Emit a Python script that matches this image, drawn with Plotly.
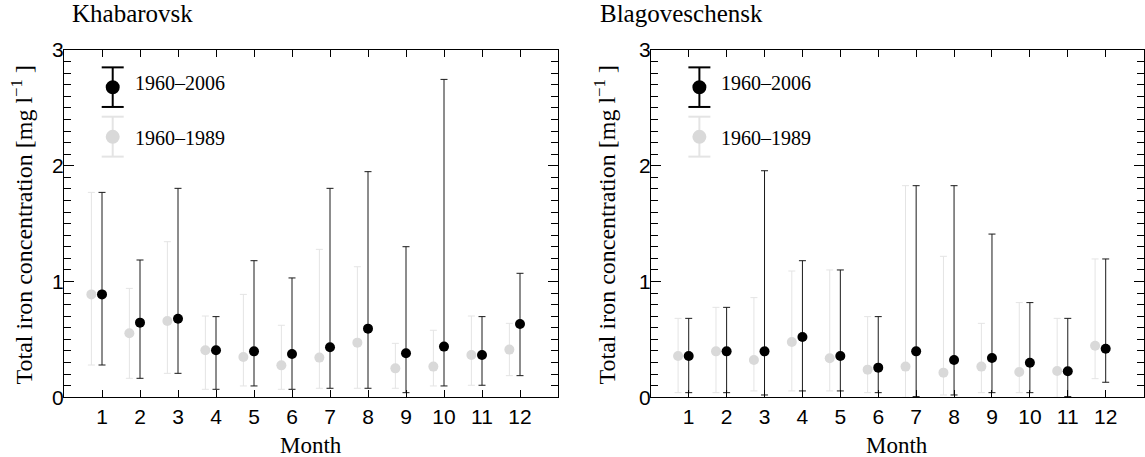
import plotly.graph_objects as go

months = list(range(1, 13))
tick_labels = [str(m) for m in months]

# Khabarovsk
kh_all_mean = [0.889, 0.645, 0.679, 0.406, 0.397, 0.374, 0.432, 0.593, 0.380, 0.438, 0.366, 0.633]
kh_all_max = [1.770, 1.186, 1.805, 0.697, 1.180, 1.031, 1.805, 1.949, 1.301, 2.746, 0.697, 1.071]
kh_all_min = [0.279, 0.164, 0.207, 0.069, 0.098, 0.069, 0.078, 0.078, 0.040, 0.098, 0.104, 0.187]
kh_old_mean = [0.889, 0.553, 0.659, 0.406, 0.348, 0.276, 0.343, 0.472, 0.250, 0.265, 0.366, 0.412]
kh_old_max = [1.770, 0.941, 1.344, 0.702, 0.889, 0.622, 1.278, 1.128, 0.466, 0.579, 0.702, 0.639]
kh_old_min = [0.279, 0.164, 0.207, 0.069, 0.098, 0.069, 0.078, 0.078, 0.078, 0.098, 0.104, 0.187]

# Blagoveschensk
bl_all_mean = [0.357, 0.397, 0.397, 0.521, 0.357, 0.256, 0.397, 0.322, 0.340, 0.299, 0.225, 0.420]
bl_all_max = [0.682, 0.777, 1.957, 1.180, 1.100, 0.697, 1.828, 1.828, 1.410, 0.818, 0.682, 1.195]
bl_all_min = [0.040, 0.040, 0.020, 0.055, 0.055, 0.040, 0.006, 0.020, 0.040, 0.040, 0.006, 0.130]
bl_old_mean = [0.357, 0.397, 0.322, 0.478, 0.337, 0.239, 0.265, 0.213, 0.265, 0.219, 0.227, 0.446]
bl_old_max = [0.682, 0.777, 0.861, 1.091, 1.100, 0.697, 1.828, 1.218, 0.639, 0.818, 0.682, 1.195]
bl_old_min = [0.040, 0.040, 0.055, 0.055, 0.055, 0.040, 0.000, 0.020, 0.040, 0.040, 0.000, 0.161]

titles = ["Khabarovsk", "Blagoveschensk"]
series_names = ["1960–2006", "1960–1989"]

SERIF = "Liberation Serif"
SANS = "Liberation Sans"
GRAY_PT = "#d9d9d9"
GRAY_BAR = "#e4e4e4"
BLACK_BAR = "#1a1a1a"
OFFSET = 0.28

fig = go.Figure()

panels = [
    (kh_all_mean, kh_all_max, kh_all_min, kh_old_mean, kh_old_max, kh_old_min),
    (bl_all_mean, bl_all_max, bl_all_min, bl_old_mean, bl_old_max, bl_old_min),
]

for i, (am, amax, amin, om, omax, omin) in enumerate(panels):
    xa = "x" if i == 0 else "x2"
    ya = "y" if i == 0 else "y2"
    fig.add_trace(go.Scatter(
        x=[m - OFFSET for m in months], y=om, mode="markers", xaxis=xa, yaxis=ya,
        marker=dict(color=GRAY_PT, size=10),
        error_y=dict(type="data", symmetric=False,
                     array=[a - b for a, b in zip(omax, om)],
                     arrayminus=[b - a for a, b in zip(omin, om)],
                     color=GRAY_BAR, thickness=1, width=3.5),
        showlegend=False, name=series_names[1]))
    fig.add_trace(go.Scatter(
        x=months, y=am, mode="markers", xaxis=xa, yaxis=ya,
        marker=dict(color="black", size=10),
        error_y=dict(type="data", symmetric=False,
                     array=[a - b for a, b in zip(amax, am)],
                     arrayminus=[b - a for a, b in zip(amin, am)],
                     color=BLACK_BAR, thickness=1, width=3.5),
        showlegend=False, name=series_names[0]))

xdoms = [[64 / 1145, 558 / 1145], [650.8 / 1145, 1143.6 / 1145]]
ydom = [(457 - 397.3) / 457, (457 - 50) / 457]

def xaxis_cfg(dom, anchor):
    return dict(domain=dom, anchor=anchor, range=[0, 13], tickvals=months, ticktext=tick_labels,
                ticks="inside", ticklen=7, tickcolor="black", tickwidth=1,
                showline=True, linecolor="black", linewidth=1, mirror="allticks",
                showgrid=False, zeroline=False,
                tickfont=dict(family=SANS, size=21, color="black"), automargin=False)

def yaxis_cfg(anchor):
    return dict(domain=ydom, anchor=anchor, range=[0, 3], tickvals=[0, 1, 2, 3],
                ticks="inside", ticklen=10, tickcolor="black", tickwidth=1,
                minor=dict(dtick=0.1, tick0=0, ticks="inside", ticklen=7, tickcolor="black", tickwidth=1, showgrid=False),
                showline=True, linecolor="black", linewidth=1, mirror="allticks",
                showgrid=False, zeroline=False, ticklabelstandoff=-5,
                tickfont=dict(family=SANS, size=21, color="black"), automargin=False)

shapes = []
annotations = []
for i in range(2):
    xr = "x domain" if i == 0 else "x2 domain"
    yr = "y domain" if i == 0 else "y2 domain"
    lx = 0.0986
    for (yc, yt, yb, col, fill, lab, ty) in [
        (0.8926, 0.950, 0.836, "black", "black", series_names[0], 0.906),
        (0.750, 0.808, 0.693, GRAY_BAR, GRAY_PT, series_names[1], 0.746),
    ]:
        shapes.append(dict(type="line", xref=xr, yref=yr, x0=lx, x1=lx, y0=yb, y1=yt,
                           line=dict(color=col, width=2)))
        for yy in (yt, yb):
            shapes.append(dict(type="line", xref=xr, yref=yr, xsizemode="pixel", xanchor=lx,
                               x0=-11, x1=11, y0=yy, y1=yy, line=dict(color=col, width=2)))
        shapes.append(dict(type="circle", xref=xr, yref=yr, xsizemode="pixel", ysizemode="pixel",
                           xanchor=lx, yanchor=yc, x0=-7, x1=7, y0=-7, y1=7,
                           fillcolor=fill, line=dict(width=0)))
        annotations.append(dict(text=lab, xref=xr, yref=yr, x=0.139, y=ty, xanchor="left",
                                yanchor="middle", showarrow=False,
                                font=dict(family=SERIF, size=20, color="black")))

# panel titles
annotations.append(dict(text=titles[0], xref="paper", yref="paper", x=70 / 1145, y=(457 - 13) / 457,
                        xanchor="left", yanchor="middle", showarrow=False,
                        font=dict(family=SERIF, size=25, color="black")))
annotations.append(dict(text=titles[1], xref="paper", yref="paper", x=598 / 1145, y=(457 - 13) / 457,
                        xanchor="left", yanchor="middle", showarrow=False,
                        font=dict(family=SERIF, size=25, color="black")))
# axis titles
for xc in [311 / 1145, 897 / 1145]:
    annotations.append(dict(text="Month", xref="paper", yref="paper", x=xc, y=(457 - 445) / 457,
                            xanchor="center", yanchor="middle", showarrow=False, borderpad=0,
                            font=dict(family=SERIF, size=23, color="black")))
for xc in [21 / 1145, 604 / 1145]:
    annotations.append(dict(text="Total iron concentration [mg l<sup>−1</sup> ]", xref="paper", yref="paper",
                            x=xc, y=(457 - 225.5) / 457, textangle=-90,
                            xanchor="center", yanchor="middle", showarrow=False,
                            font=dict(family=SERIF, size=24, color="black")))

fig.update_layout(
    width=1145, height=457,
    margin=dict(l=0, r=0, t=0, b=0),
    paper_bgcolor="white", plot_bgcolor="white",
    xaxis=xaxis_cfg(xdoms[0], "y"), yaxis=yaxis_cfg("x"),
    xaxis2=xaxis_cfg(xdoms[1], "y2"), yaxis2=yaxis_cfg("x2"),
    shapes=shapes, annotations=annotations, showlegend=False,
)

fig.write_html("out.html")
